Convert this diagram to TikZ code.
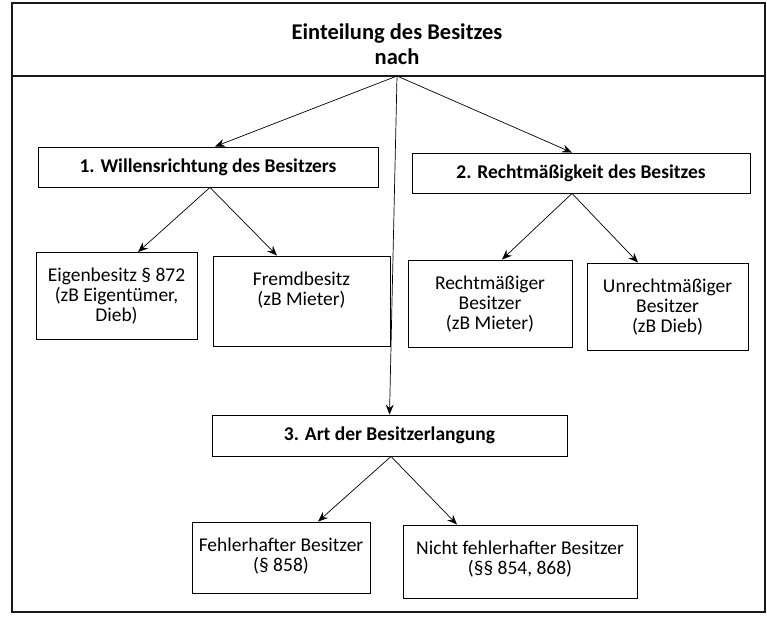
\documentclass[tikz,border=0pt]{standalone}
\usepackage{fontspec}
\setmainfont{Carlito}
\usetikzlibrary{arrows.meta}
% text block of a leaf box: fixed size, first baseline 29pt below the top
\newcommand\leafbody[3]{\parbox[c][#2][t]{#1}{\centering\rule{0pt}{29pt}#3}}
\begin{document}
\begin{tikzpicture}[x=1pt,y=-1pt,
  frame/.style={draw=black!90, line width=1.3pt},
  titletext/.style={align=center, inner sep=0pt, font=\fontsize{22.5}{25}\selectfont\bfseries},
  headbox/.style={draw, line width=0.9pt, inner sep=0pt, minimum height=40pt,
                  font=\fontsize{19.5}{20}\selectfont\bfseries},
  leafbox/.style={draw, line width=0.9pt, inner sep=0pt, font=\fontsize{19.5}{20}\selectfont},
  arr/.style={line width=0.7pt, -{Stealth[length=10pt,width=8pt,inset=3.5pt]}}]
\useasboundingbox (0,0) rectangle (767,619);

% outer frame and title band
\draw[frame] (12,3) rectangle (765,612);
\draw[frame] (12,76) -- (765,76);
\node[titletext] (title) at (397,44) {Einteilung des Besitzes\\nach};
\coordinate (apex) at (397,76);

% first level
\node[headbox, minimum width=340pt] (b1) at (208,167) {1. Willensrichtung des Besitzers};
\node[headbox, minimum width=338pt] (b2) at (581,173) {2. Rechtmäßigkeit des Besitzes};
\node[headbox, minimum width=355pt, minimum height=41pt] (b3) at (389.5,435.5) {3. Art der Besitzerlangung};

% second level
\node[leafbox] (e1) at (116.5,296)
  {\leafbody{161pt}{87pt}{Eigenbesitz § 872\\(zB Eigentümer,\\Dieb)}};
\node[leafbox] (e2) at (301.5,301)
  {\leafbody{177pt}{90pt}{Fremdbesitz\\(zB Mieter)}};
\node[leafbox] (r1) at (490,303.5)
  {\leafbody{164pt}{87pt}{Rechtmäßiger\\Besitzer\\(zB Mieter)}};
\node[leafbox] (r2) at (667.5,306.5)
  {\leafbody{161pt}{87pt}{Unrechtmäßiger\\Besitzer\\(zB Dieb)}};
\node[leafbox] (f1) at (281,557.5)
  {\leafbody{178pt}{71pt}{Fehlerhafter Besitzer\\(§ 858)}};
\node[leafbox] (f2) at (520,561.5)
  {\leafbody{234pt}{73pt}{Nicht fehlerhafter Besitzer\\(§§ 854, 868)}};

% connectors
\draw[arr] (apex) -- ([xshift=7pt]b1.north);
\draw[arr] (apex) -- ([xshift=-9pt]b2.north);
\draw[arr] (apex) -- (b3.north);
\draw[arr] ([xshift=2pt]b1.south) -- ([xshift=21.5pt]e1.north);
\draw[arr] ([xshift=2pt]b1.south) -- ([xshift=-24.5pt]e2.north);
\draw[arr] ([xshift=-9pt]b2.south) -- ([xshift=12pt]r1.north);
\draw[arr] ([xshift=-9pt]b2.south) -- ([xshift=-29.5pt]r2.north);
\draw[arr] ([xshift=1.5pt]b3.south) -- ([xshift=37pt]f1.north);
\draw[arr] ([xshift=1.5pt]b3.south) -- ([xshift=-63pt]f2.north);
\end{tikzpicture}
\end{document}
